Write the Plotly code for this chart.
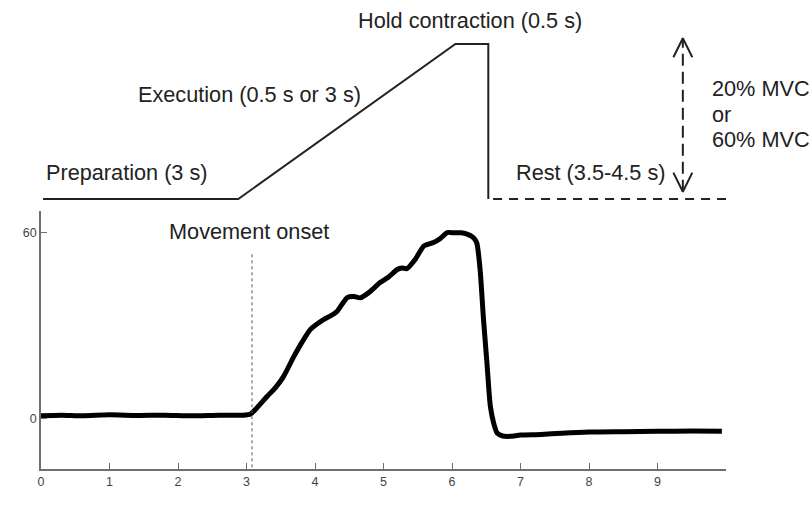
import plotly.graph_objects as go

# ---- data ----
time_s = [0.0, 0.3, 0.6, 1.0, 1.4, 1.8, 2.2, 2.6, 2.95, 3.06, 3.15, 3.30, 3.42, 3.54, 3.69,
          3.82, 3.93, 4.03, 4.13, 4.22, 4.32, 4.40, 4.47, 4.57, 4.66, 4.78, 4.95, 5.07,
          5.20, 5.27, 5.34, 5.47, 5.59, 5.73, 5.83, 5.93, 6.03, 6.13, 6.22, 6.30, 6.36,
          6.41, 6.46, 6.51, 6.56, 6.61, 6.66, 6.74, 6.85, 7.0, 7.3, 7.6, 8.0, 8.5, 9.0,
          9.5, 9.94]
mvc = [1.0, 1.2, 1.0, 1.3, 1.1, 1.2, 1.0, 1.2, 1.2, 1.6, 3.5, 7.2, 10.0, 13.6, 20.0,
       25.0, 28.7, 30.5, 32.0, 33.0, 34.5, 37.0, 39.0, 39.3, 38.9, 40.5, 43.8, 45.5,
       48.0, 48.5, 48.3, 51.5, 55.6, 56.7, 58.0, 59.9, 59.8, 59.8, 59.4, 58.5, 56.7,
       48.0, 32.0, 18.0, 4.0, -1.5, -4.6, -5.5, -5.6, -5.2, -5.0, -4.6, -4.2, -4.1,
       -4.0, -3.9, -4.0]

onset_t = 3.08
onset_top = 52.9

# schematic (upper panel, normalised target level)
sched_t = [0.03, 2.88, 6.05, 6.53, 6.53]
sched_level = [0, 0, 1, 1, 0]
rest_t = [6.60, 10.0]
rest_level = [0, 0]
arrow_t = 9.37
arrow_lo, arrow_hi = 0.047, 1.037

x_ticks = [0, 1, 2, 3, 4, 5, 6, 7, 8, 9]
y_ticks = [0, 60]

FONT = "Liberation Sans, Arial, Helvetica, sans-serif"
INK = "#222222"
AX = "#6e6e6e"

fig = go.Figure()

# signal
fig.add_trace(go.Scatter(x=time_s, y=mvc, mode="lines",
                         line=dict(color="#000000", width=5, shape="spline", smoothing=0.6),
                         xaxis="x", yaxis="y", showlegend=False, hoverinfo="skip"))
# onset dotted line
fig.add_trace(go.Scatter(x=[onset_t, onset_t], y=[onset_top, -16.1], mode="lines",
                         line=dict(color="#555555", width=1, dash="dot"),
                         xaxis="x", yaxis="y", showlegend=False, hoverinfo="skip"))

# schematic
fig.add_trace(go.Scatter(x=sched_t, y=sched_level, mode="lines",
                         line=dict(color=INK, width=2),
                         xaxis="x", yaxis="y2", showlegend=False, hoverinfo="skip"))
fig.add_trace(go.Scatter(x=rest_t, y=rest_level, mode="lines",
                         line=dict(color=INK, width=2, dash="9px,7px"),
                         xaxis="x", yaxis="y2", showlegend=False, hoverinfo="skip"))
# double arrow
fig.add_trace(go.Scatter(x=[arrow_t, arrow_t], y=[arrow_lo, arrow_hi], mode="lines",
                         line=dict(color=INK, width=2, dash="12px,6px"),
                         xaxis="x", yaxis="y2", showlegend=False, hoverinfo="skip"))
hw, hh = 0.138, 0.123
fig.add_trace(go.Scatter(x=[arrow_t - hw, arrow_t, arrow_t + hw],
                         y=[arrow_hi - hh, arrow_hi, arrow_hi - hh], mode="lines",
                         line=dict(color=INK, width=2),
                         xaxis="x", yaxis="y2", showlegend=False, hoverinfo="skip"))
fig.add_trace(go.Scatter(x=[arrow_t - hw, arrow_t, arrow_t + hw],
                         y=[arrow_lo + hh, arrow_lo, arrow_lo + hh], mode="lines",
                         line=dict(color=INK, width=2),
                         xaxis="x", yaxis="y2", showlegend=False, hoverinfo="skip"))

fs = 21.7
tf = dict(family=FONT, size=fs, color=INK)
ann = [
    dict(x=6.26, y=1.150, xref="x", yref="y2", text="Hold contraction (0.5 s)"),
    dict(x=3.04, y=0.671, xref="x", yref="y2", text="Execution (0.5 s or 3 s)"),
    dict(x=1.25, y=0.168, xref="x", yref="y2", text="Preparation (3 s)"),
    dict(x=8.02, y=0.168, xref="x", yref="y2", text="Rest (3.5-4.5 s)"),
    dict(x=9.77, y=0.716, xref="x", yref="y2", text="20% MVC", xanchor="left"),
    dict(x=9.77, y=0.542, xref="x", yref="y2", text="or", xanchor="left"),
    dict(x=9.77, y=0.381, xref="x", yref="y2", text="60% MVC", xanchor="left"),
    dict(x=3.03, y=60.1, xref="x", yref="y", text="Movement onset"),
    dict(x=4.82, y=-26.7, xref="x", yref="y", text="Time (s)"),
    dict(x=-0.30, y=21.9, xref="x", yref="y", text="% MVC", textangle=-90),
]
annotations = []
for a in ann:
    d = dict(showarrow=False, font=tf, yanchor="middle", xanchor=a.pop("xanchor", "center"))
    d.update(a)
    annotations.append(d)

tickfont = dict(family=FONT, size=12.5, color="#444444")

fig.update_layout(
    width=811, height=514,
    margin=dict(l=40.7, r=85.3, t=10, b=45, autoexpand=False),
    paper_bgcolor="white", plot_bgcolor="white",
    font=dict(family=FONT),
    annotations=annotations,
    xaxis=dict(range=[0, 10], tickvals=x_ticks, ticktext=[str(v) for v in x_ticks],
               showgrid=False, zeroline=False, showline=True, linecolor=AX, linewidth=1.5,
               ticks="inside", ticklen=6, tickwidth=1.2, tickcolor=AX,
               tickfont=tickfont, anchor="y"),
    yaxis=dict(domain=[0, 0.562], range=[-16.1, 66.8], tickvals=y_ticks,
               ticktext=[str(v) for v in y_ticks],
               showgrid=False, zeroline=False, showline=True, linecolor=AX, linewidth=1.5,
               ticks="inside", ticklen=6, tickwidth=1.2, tickcolor=AX,
               tickfont=tickfont, anchor="x"),
    yaxis2=dict(domain=[0.575, 1], range=[-0.039, 1.219], visible=False,
                showgrid=False, zeroline=False, anchor="x"),
)

# remove the page's default body margin so the figure fills the window exactly
fig.write_html("out.html",
               config={"displayModeBar": False},
               post_script="document.body.style.margin='0';"
                           "document.documentElement.style.overflow='hidden';")
